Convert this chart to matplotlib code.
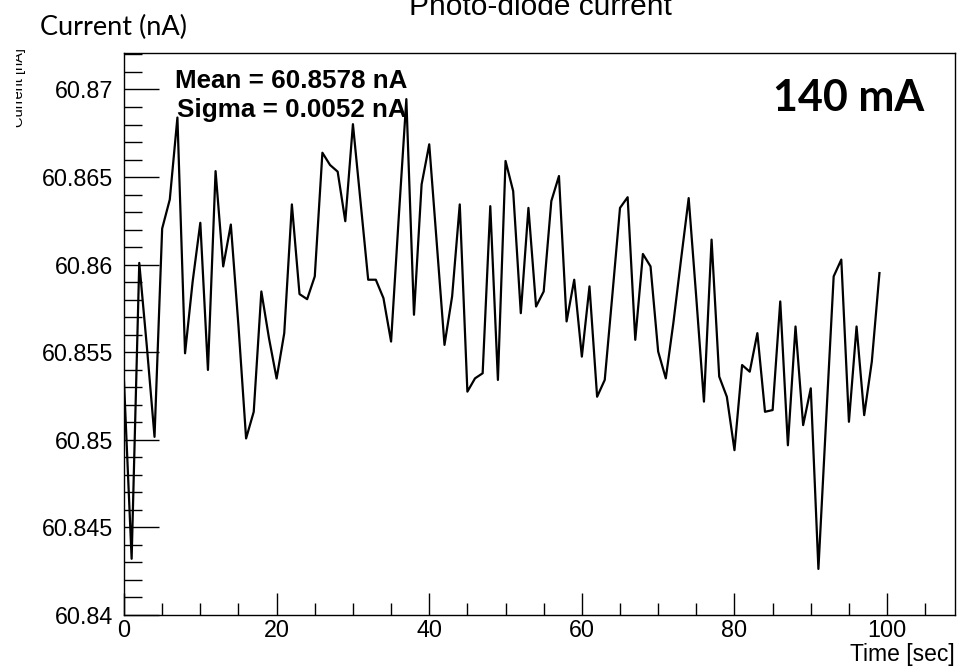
import numpy as np
import matplotlib
matplotlib.use("Agg")
import matplotlib.pyplot as plt
from matplotlib.transforms import Bbox

# Photo-diode readout, one sample per second
time_sec = list(range(100))
current_na = [
    60.85332, 60.84321, 60.86010, 60.85530, 60.85017, 60.86206, 60.86372, 60.86840, 60.85494, 60.85905,
    60.86239, 60.85399, 60.86534, 60.85990, 60.86229, 60.85650, 60.85008, 60.85160, 60.85847, 60.85580,
    60.85350, 60.85609, 60.86344, 60.85832, 60.85803, 60.85933, 60.86639, 60.86569, 60.86531, 60.86248,
    60.86802, 60.86358, 60.85914, 60.85914, 60.85809, 60.85561, 60.86267, 60.86945, 60.85714, 60.86458,
    60.86687, 60.86115, 60.85542, 60.85819, 60.86344, 60.85275, 60.85351, 60.85380, 60.86334, 60.85342,
    60.86592, 60.86420, 60.85723, 60.86324, 60.85761, 60.85847, 60.86363, 60.86506, 60.85676, 60.85914,
    60.85475, 60.85876, 60.85246, 60.85342, 60.85828, 60.86324, 60.86385, 60.85571, 60.86061, 60.85990,
    60.85504, 60.85351, 60.85670, 60.86030, 60.86380, 60.85809, 60.85218, 60.86143, 60.85361, 60.85246,
    60.84941, 60.85427, 60.85389, 60.85609, 60.85160, 60.85170, 60.85790, 60.84969, 60.85647, 60.85084,
    60.85294, 60.84263, 60.85103, 60.85933, 60.86029, 60.85103, 60.85647, 60.85141, 60.85447, 60.85952,
]

x_ticks = [0, 20, 40, 60, 80, 100]
x_tick_labels = ["0", "20", "40", "60", "80", "100"]
y_ticks = [60.84, 60.845, 60.85, 60.855, 60.86, 60.865, 60.87]
y_tick_labels = ["60.84", "60.845", "60.85", "60.855", "60.86", "60.865", "60.87"]

mean_text = "Mean = 60.8578 nA"
sigma_text = "Sigma = 0.0052 nA"
beam_label = "140 mA"

W, H = 964, 670
fig = plt.figure(figsize=(W / 100, H / 100), dpi=100)

# frame in pixel coordinates (left, top, right, bottom)
fl, ft, fr, fb = 124, 52.7, 955, 615
ax = fig.add_axes([fl / W, 1 - fb / H, (fr - fl) / W, (fb - ft) / H])

ax.plot(time_sec, current_na, color="black", lw=1.6)

ax.set_xlim(0, 108.9)
ax.set_ylim(60.84, 60.8721)

label_font = dict(family="Liberation Sans", size=16.8)
ax.set_xticks(x_ticks)
ax.set_xticklabels(x_tick_labels, **label_font)
ax.set_xticks(np.arange(0, 108, 5), minor=True)
ax.set_yticks(y_ticks)
ax.set_yticklabels(y_tick_labels, **label_font)
ax.set_yticks(np.arange(60.84, 60.8721, 0.001), minor=True)

ax.tick_params(axis="x", which="major", direction="in", length=16, width=1, pad=3)
ax.tick_params(axis="x", which="minor", direction="in", length=9, width=1)
ax.tick_params(axis="y", which="major", direction="in", length=25, width=1, pad=8)
ax.tick_params(axis="y", which="minor", direction="in", length=13, width=1)
for s in ax.spines.values():
    s.set_linewidth(1.0)

# stats box text
ax.text(175 / W, 1 - 88 / H, mean_text, transform=fig.transFigure,
        family="Liberation Sans", weight="bold", size=18.7, va="baseline")
ax.text(177 / W, 1 - 117 / H, sigma_text, transform=fig.transFigure,
        family="Liberation Sans", weight="bold", size=18.7, va="baseline")

# beam current tag
fig.text(773 / W, 1 - 111 / H, beam_label, family="Lato", weight="bold",
         size=31, va="baseline")

# titles
fig.text(540 / W, 1 - 15 / H, "Photo-diode current", family="Liberation Sans",
         size=21.5, ha="center", va="baseline")
fig.text(40 / W, 1 - 35 / H, "Current (nA)", family="Lato", size=19.5,
         ha="left", va="baseline")
fig.text(fr / W, 1 - 654 / H, "Time [sec]", family="Liberation Sans",
         size=16.5, ha="right", va="center")

# original axis title, mostly cut off at the left edge
ytitle = fig.text(19 / W, 1 - 48 / H, "Current [nA]", family="Liberation Sans",
                  size=10.5, rotation=90, ha="center", va="top")
ytitle.set_clip_box(Bbox([[16, 0], [40, H]]))
ytitle.set_clip_on(True)

fig.savefig("out.png", dpi=100)
